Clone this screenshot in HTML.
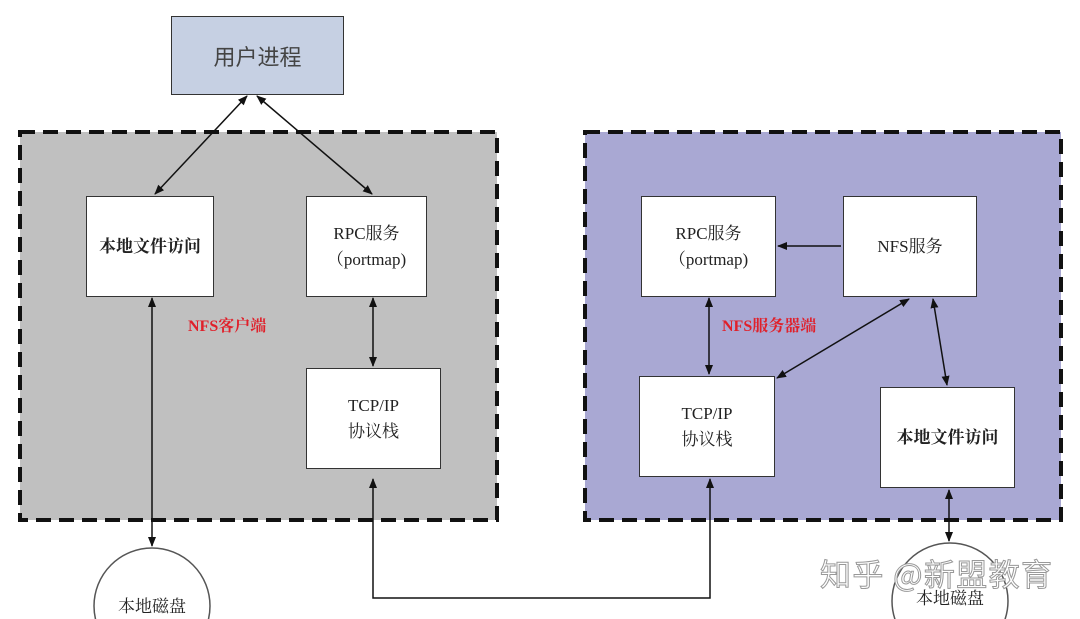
<!DOCTYPE html>
<html><head><meta charset="utf-8"><style>
html,body{margin:0;width:1080px;height:619px;overflow:hidden;background:#fff;font-family:"Liberation Serif","Noto Serif CJK SC",serif;}
.b{position:absolute;background:#fff;border:1.5px solid #333;box-sizing:border-box;display:flex;align-items:center;justify-content:center;text-align:center;font-size:17px;line-height:26px;color:#222}
.red{position:absolute;color:#e0202a;font-weight:bold;font-size:16px}
</style></head><body>
<svg width="1080" height="619" style="position:absolute;left:0;top:0">
<rect x="20" y="132" width="477" height="388" fill="#c0c0c0" stroke="#111" stroke-width="4" stroke-dasharray="15,8"/>
<rect x="585" y="132" width="476" height="388" fill="#a9a8d3" stroke="#111" stroke-width="4" stroke-dasharray="15,8"/>
</svg>
<div class="b" style="left:171px;top:16px;width:173px;height:79px;background:#c6d0e3;font-size:22px;font-family:'Noto Sans CJK SC',sans-serif;color:#444">用户进程</div>
<div class="b" style="left:86px;top:196px;width:128px;height:101px;font-weight:bold">本地文件访问</div>
<div class="b" style="left:306px;top:196px;width:121px;height:101px">RPC服务<br>（portmap)</div>
<div class="b" style="left:306px;top:368px;width:135px;height:101px">TCP/IP<br>协议栈</div>
<div class="b" style="left:641px;top:196px;width:135px;height:101px">RPC服务<br>（portmap)</div>
<div class="b" style="left:843px;top:196px;width:134px;height:101px">NFS服务</div>
<div class="b" style="left:639px;top:376px;width:136px;height:101px">TCP/IP<br>协议栈</div>
<div class="b" style="left:880px;top:387px;width:135px;height:101px;font-weight:bold">本地文件访问</div>
<div class="red" style="left:188px;top:313px">NFS客户端</div>
<div class="red" style="left:722px;top:313px">NFS服务器端</div>
<svg width="1080" height="619" style="position:absolute;left:0;top:0">
<defs><marker id="a" markerWidth="10" markerHeight="8" refX="9" refY="4" orient="auto-start-reverse" markerUnits="userSpaceOnUse"><path d="M0,0L10,4L0,8z" fill="#111"/></marker></defs>
<g stroke="#111" stroke-width="1.5" fill="none">
<line x1="247" y1="96" x2="155" y2="194" marker-start="url(#a)" marker-end="url(#a)"/>
<line x1="257" y1="96" x2="372" y2="194" marker-start="url(#a)" marker-end="url(#a)"/>
<line x1="152" y1="298" x2="152" y2="546" marker-start="url(#a)" marker-end="url(#a)"/>
<line x1="373" y1="298" x2="373" y2="366" marker-start="url(#a)" marker-end="url(#a)"/>
<polyline points="373,479 373,598 710,598 710,479" marker-start="url(#a)" marker-end="url(#a)"/>
<line x1="841" y1="246" x2="778" y2="246" marker-end="url(#a)"/>
<line x1="709" y1="298" x2="709" y2="374" marker-start="url(#a)" marker-end="url(#a)"/>
<line x1="909" y1="299" x2="777" y2="378" marker-start="url(#a)" marker-end="url(#a)"/>
<line x1="933" y1="299" x2="947" y2="385" marker-start="url(#a)" marker-end="url(#a)"/>
<line x1="949" y1="490" x2="949" y2="541" marker-start="url(#a)" marker-end="url(#a)"/>
<circle cx="152" cy="606" r="58" stroke="#555"/>
<circle cx="950" cy="601" r="58" stroke="#555"/>
</g>
<text x="152" y="612" text-anchor="middle" font-size="17" font-family="Liberation Serif,Noto Serif CJK SC,serif" fill="#222">本地磁盘</text>
<text x="950" y="604" text-anchor="middle" font-size="17" font-family="Liberation Serif,Noto Serif CJK SC,serif" fill="#222">本地磁盘</text>
<text x="820" y="586" font-size="31" textLength="232" font-family="Noto Sans CJK SC,sans-serif" fill="#fff" stroke="#999" stroke-width="1">知乎 @新盟教育</text>
</svg>
</body></html>
